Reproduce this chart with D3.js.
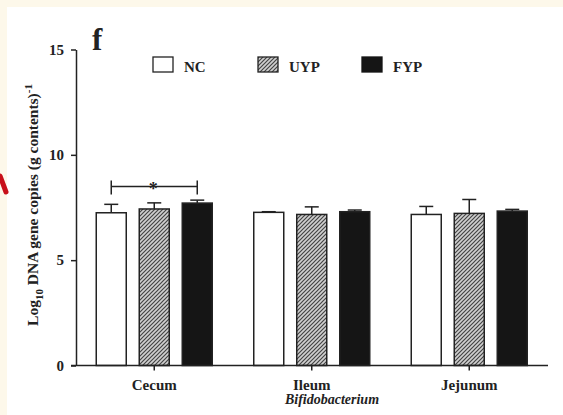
<!DOCTYPE html>
<html><head><meta charset="utf-8">
<script src="https://cdn.jsdelivr.net/npm/d3@7"></script>
<style>
html,body{margin:0;padding:0;background:#fdf8ea;}
svg{display:block;}
text{font-family:"Liberation Serif","Times New Roman",serif;font-weight:bold;fill:#222;}
</style></head>
<body>
<script>
const groups = ["Cecum", "Ileum", "Jejunum"];
const series = ["NC", "UYP", "FYP"];
const means = {
  NC:  [7.25, 7.27, 7.17],
  UYP: [7.43, 7.17, 7.22],
  FYP: [7.71, 7.30, 7.33]
};
const errors = {
  NC:  [0.40, 0.03, 0.38],
  UYP: [0.29, 0.36, 0.66],
  FYP: [0.14, 0.08, 0.08]
};
const yTicks = [0, 5, 10, 15];

const W = 563, H = 415;
const svg = d3.select("body").append("svg").attr("width", W).attr("height", H);

svg.append("rect").attr("x", 7).attr("y", 7).attr("width", W - 7).attr("height", H - 7).attr("fill", "#fff");

svg.append("path").attr("d", "M0,176 L6,192").attr("stroke", "#c8101a").attr("stroke-width", 5).attr("stroke-linecap", "round").attr("fill", "none");

const defs = svg.append("defs");
const pat = defs.append("pattern").attr("id", "hatch").attr("patternUnits", "userSpaceOnUse")
  .attr("width", 4).attr("height", 4);
pat.append("rect").attr("width", 4).attr("height", 4).attr("fill", "#d0d0d0");
pat.append("path").attr("d", "M-1,1 L1,-1 M0,4 L4,0 M3,5 L5,3").attr("stroke", "#444").attr("stroke-width", 1.2);

const y = d3.scaleLinear().domain([0, 15]).range([365.5, 49.5]);
const x = d3.scaleBand().domain(groups).range([75.5, 548]).padding(0);
const xi = d3.scaleBand().domain(series).range([-58, 58]).paddingInner(13 / 43).paddingOuter(0);
const fills = { NC: "#ffffff", UYP: "url(#hatch)", FYP: "#151515" };

const g = svg.append("g");

series.forEach(s => {
  groups.forEach((grp, i) => {
    const cx = x(grp) + x.bandwidth() / 2;
    const bx = cx + xi(s);
    const m = means[s][i], e = errors[s][i];
    const bw = xi.bandwidth();
    g.append("line").attr("x1", bx + bw / 2).attr("x2", bx + bw / 2)
      .attr("y1", y(m)).attr("y2", y(m + e)).attr("stroke", "#222").attr("stroke-width", 1.5);
    g.append("line").attr("x1", bx + bw / 2 - 7).attr("x2", bx + bw / 2 + 7)
      .attr("y1", y(m + e)).attr("y2", y(m + e)).attr("stroke", "#222").attr("stroke-width", 1.5);
    g.append("rect").attr("x", bx).attr("y", y(m)).attr("width", bw).attr("height", y(0) - y(m))
      .attr("fill", fills[s]).attr("stroke", "#222").attr("stroke-width", 1.5);
  });
});

const yAxis = svg.append("g").attr("transform", "translate(76,0)")
  .call(d3.axisLeft(y).tickValues(yTicks).tickSize(5).tickSizeOuter(0).tickPadding(7));
yAxis.select(".domain").attr("stroke", "#222").attr("stroke-width", 1.5);
yAxis.selectAll(".tick line").attr("stroke", "#222").attr("stroke-width", 1.5);
yAxis.selectAll("text").style("font-size", "15px").style("font-family", "Liberation Serif").style("font-weight", "bold").attr("fill", "#222");

const xAxis = svg.append("g").attr("transform", "translate(0,365.5)")
  .call(d3.axisBottom(x).tickSize(5).tickSizeOuter(0).tickPadding(9));
xAxis.select(".domain").attr("d", "M71,0H548").attr("stroke", "#222").attr("stroke-width", 1.5);
xAxis.selectAll(".tick line").attr("stroke", "#222").attr("stroke-width", 1.5);
xAxis.selectAll("text").style("font-size", "15px").style("font-family", "Liberation Serif").style("font-weight", "bold").attr("fill", "#222");

const c0 = x("Cecum") + x.bandwidth() / 2;
const bl = c0 + xi("NC") + xi.bandwidth() / 2, br = c0 + xi("FYP") + xi.bandwidth() / 2;
const by = y(8.5);
g.append("path").attr("d", `M${bl},${by - 6}V${by + 8}M${bl},${by}H${br}M${br},${by - 6}V${by + 8}`)
  .attr("stroke", "#222").attr("stroke-width", 1.5).attr("fill", "none");
svg.append("text").attr("x", (bl + br) / 2 - 1).attr("y", by + 9).attr("text-anchor", "middle")
  .style("font-size", "18px").text("*");

svg.append("text").attr("x", 92).attr("y", 50).style("font-size", "31px").text("f");

const legX = [153, 258, 362];
series.forEach((s, i) => {
  svg.append("rect").attr("x", legX[i]).attr("y", 57).attr("width", 20).attr("height", 15)
    .attr("fill", fills[s]).attr("stroke", s === "FYP" ? "#151515" : "#222").attr("stroke-width", 1.3);
  svg.append("text").attr("x", legX[i] + 31).attr("y", 72).style("font-size", "15px").text(s);
});

const yt = svg.append("text").attr("transform", "translate(38,205) rotate(-90)").attr("text-anchor", "middle")
  .style("font-size", "15.5px");
yt.append("tspan").text("Log");
yt.append("tspan").attr("dy", 5).style("font-size", "11px").text("10");
yt.append("tspan").attr("dy", -5).text(" DNA gene copies (g contents)");
yt.append("tspan").attr("dy", -6).style("font-size", "11px").text("-1");

svg.append("text").attr("x", 332).attr("y", 404).attr("text-anchor", "middle")
  .style("font-size", "14px").style("font-style", "italic").text("Bifidobacterium");
</script>
</body></html>
